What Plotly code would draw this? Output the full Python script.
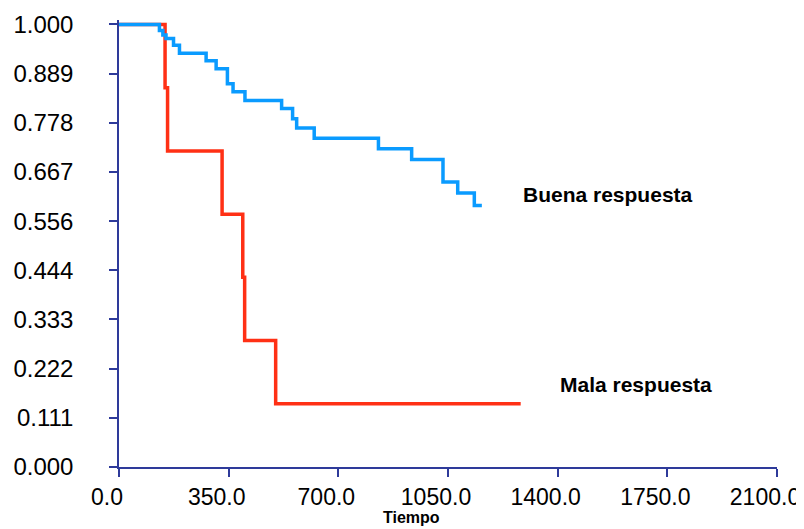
import plotly.graph_objects as go

# Kaplan-Meier style step curves (time, survival)
buena_t = [0, 129, 140, 150, 174, 193, 278, 310, 346, 364, 402, 519, 554, 567, 623, 828, 934, 1034, 1081, 1134, 1158]
buena_s = [1.000, 0.986, 0.976, 0.968, 0.953, 0.935, 0.918, 0.900, 0.866, 0.848, 0.828, 0.810, 0.787, 0.766, 0.743, 0.719, 0.695, 0.644, 0.619, 0.591, 0.591]

mala_t = [0, 147, 155, 329, 395, 401, 500, 1282]
mala_s = [1.000, 0.857, 0.714, 0.571, 0.429, 0.286, 0.143, 0.143]

y_ticks = [0, 1/9, 2/9, 3/9, 4/9, 5/9, 6/9, 7/9, 8/9, 1.0]
y_labels = ["0.000", "0.111", "0.222", "0.333", "0.444", "0.556", "0.667", "0.778", "0.889", "1.000"]
x_ticks = [0, 350, 700, 1050, 1400, 1750, 2100]
x_labels = ["0.0", "350.0", "700.0", "1050.0", "1400.0", "1750.0", "2100.0"]

AXIS = "#2e3a9a"
FONT = "Liberation Sans, Arial, sans-serif"

fig = go.Figure()
fig.add_trace(go.Scatter(x=mala_t, y=mala_s, mode="lines", line_shape="hv",
                         line=dict(color="#ff3015", width=3.5), showlegend=False))
fig.add_trace(go.Scatter(x=buena_t, y=buena_s, mode="lines", line_shape="hv",
                         line=dict(color="#0a9bff", width=3.5), showlegend=False))

fig.add_annotation(x=1283, y=0.616, xref="x", yref="y", text="<b>Buena respuesta</b>",
                   showarrow=False, xanchor="left", yanchor="middle",
                   font=dict(family=FONT, size=21, color="black"))
fig.add_annotation(x=1402, y=0.187, xref="x", yref="y", text="<b>Mala respuesta</b>",
                   showarrow=False, xanchor="left", yanchor="middle",
                   font=dict(family=FONT, size=21, color="black"))
fig.add_annotation(x=935, y=-0.114, xref="x", yref="paper", text="<b>Tiempo</b>",
                   showarrow=False, xanchor="center", yanchor="middle",
                   font=dict(family=FONT, size=16, color="black"))

fig.update_layout(
    width=796, height=521,
    margin=dict(l=111, r=27, t=12, b=62),
    paper_bgcolor="white", plot_bgcolor="white",
    font=dict(family=FONT, size=24, color="black"),
    xaxis=dict(range=[0, 2100], tickvals=x_ticks, ticktext=x_labels, automargin=False,
               showgrid=False, zeroline=False, showline=True, linecolor=AXIS, linewidth=1.5,
               ticks="outside", ticklen=8, tickcolor=AXIS, tickwidth=1.5,
               ticklabelstandoff=1, ticklabelshift=-12,
               tickfont=dict(family=FONT, size=23, color="black")),
    yaxis=dict(range=[0, 1.01], tickvals=y_ticks, ticktext=y_labels, automargin=False,
               showgrid=False, zeroline=False, showline=True, linecolor=AXIS, linewidth=1.5,
               ticks="outside", ticklen=8, tickcolor=AXIS, tickwidth=1.5,
               ticklabelstandoff=31,
               tickfont=dict(family=FONT, size=24, color="black")),
)

fig.write_html("out.html")
